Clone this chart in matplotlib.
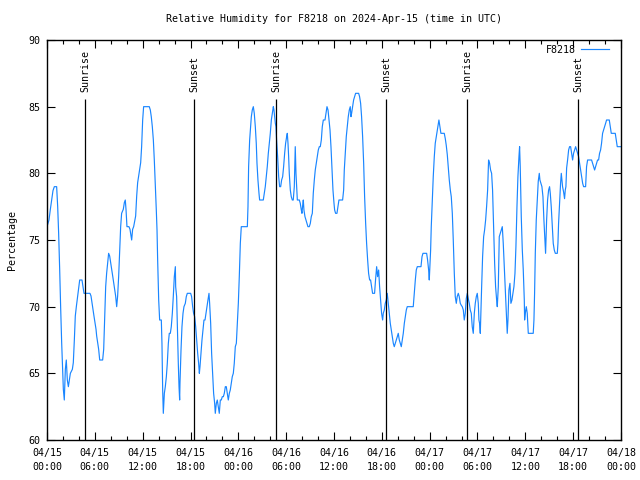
import matplotlib
matplotlib.use('Agg')
import matplotlib.pyplot as plt
from matplotlib.ticker import MultipleLocator

plt.rcParams['font.family'] = ['DejaVu Sans Mono', 'DejaVu Sans']
FS = 7.2

title = "Relative Humidity for F8218 on 2024-Apr-15 (time in UTC)"
series_name = "F8218"
y_label = "Percentage"

# (hours since 04/15 00:00 UTC, relative humidity %)
day1 = [(0.00, 76), (0.25, 76.5), (0.42, 77.3), (0.59, 78), (0.75, 78.7), (0.92, 79), (1.21, 79),
        (1.34, 77.5), (1.46, 75.5), (1.59, 72.8), (1.71, 70), (1.84, 67.3), (1.96, 65.3), (2.05, 63.8),
        (2.17, 63), (2.30, 65.3), (2.42, 66), (2.55, 64.5), (2.68, 64), (2.80, 64.5), (2.93, 65),
        (3.18, 65.3), (3.30, 65.8), (3.43, 67.5), (3.55, 69.3), (3.68, 70), (3.85, 70.8), (4.01, 71.5),
        (4.10, 72), (4.39, 72), (4.52, 71.5), (4.64, 71), (5.39, 71), (5.52, 70.8), (5.64, 70.3),
        (5.77, 69.8), (5.89, 69.3), (6.02, 68.8), (6.15, 68.3), (6.23, 67.8), (6.35, 67.3), (6.48, 66.8),
        (6.61, 66), (6.98, 66), (7.11, 66.8), (7.23, 69), (7.36, 71.5), (7.48, 72.5), (7.61, 73.3),
        (7.73, 74), (7.86, 73.8), (7.99, 73.3), (8.11, 72.8), (8.24, 72.3), (8.36, 71.8), (8.49, 71.3),
        (8.61, 70.8), (8.74, 70), (8.86, 70.8), (8.99, 72.3), (9.11, 74), (9.24, 76), (9.36, 77),
        (9.57, 77.3), (9.70, 77.8), (9.82, 78), (9.91, 77.3), (10.03, 76), (10.28, 76), (10.41, 75.8),
        (10.54, 75.3), (10.62, 75), (10.74, 75.8), (10.87, 76), (11.12, 76.8), (11.25, 78.3), (11.37, 79.3),
        (11.50, 79.8), (11.62, 80.3), (11.75, 80.8), (11.87, 82), (12.00, 84), (12.12, 85),
        (12.83, 85), (12.96, 84.75), (13.08, 84.25), (13.21, 83.5), (13.34, 82.5), (13.46, 81), (13.59, 79.1),
        (13.71, 77.25), (13.80, 75.75), (13.88, 73.5), (14.01, 70.5), (14.13, 69), (14.34, 69), (14.42, 67.25),
        (14.51, 63.75), (14.59, 62), (14.72, 63.5), (14.84, 64), (14.97, 64.75), (15.09, 65.75), (15.22, 67.25),
        (15.34, 68), (15.47, 68), (15.59, 68.5), (15.72, 69.5), (15.84, 70.75), (15.97, 72.25), (16.10, 73),
        (16.14, 71.5), (16.26, 70.75), (16.35, 68.5), (16.47, 65.75), (16.56, 64), (16.64, 63), (16.68, 64.25),
        (16.81, 66.75), (16.93, 68.5), (17.06, 69.5), (17.18, 70), (17.35, 70.25), (17.47, 70.75), (17.60, 71),
        (18.02, 71), (18.14, 70.75), (18.27, 70), (18.39, 69.5), (18.52, 69.25), (18.65, 68.5), (18.77, 67.5),
        (18.90, 66.5), (19.02, 65.75), (19.11, 65), (19.19, 65.5), (19.31, 66.5), (19.44, 67.5), (19.57, 68.25),
        (19.69, 69), (19.82, 69), (19.94, 69.5), (20.07, 70), (20.19, 70.5), (20.32, 71), (20.40, 70.25),
        (20.53, 68.75), (20.65, 66.5), (20.78, 65), (20.90, 63.5), (21.03, 62.75), (21.11, 62), (21.24, 62.75),
        (21.36, 63), (21.49, 62.5), (21.61, 62), (21.74, 63), (21.86, 63), (21.99, 63.25), (22.12, 63.25),
        (22.24, 63.5), (22.37, 64), (22.49, 64), (22.62, 63.5), (22.74, 63), (22.87, 63.5), (22.99, 63.75),
        (23.12, 64.25), (23.24, 64.75), (23.37, 65), (23.49, 65.75), (23.62, 67), (23.75, 67.25), (23.87, 68.75),
        (24.00, 70.25)]

day2 = [(24.12, 72.25), (24.25, 74.75), (24.37, 76), (25.13, 76), (25.21, 77.5), (25.29, 80.5), (25.42, 82.5),
        (25.54, 83.5), (25.63, 84.25), (25.75, 84.75), (25.88, 85), (26.00, 84.5), (26.13, 83.5), (26.25, 82.25),
        (26.34, 80.75), (26.46, 79.5), (26.59, 78.5), (26.67, 78), (27.13, 78), (27.26, 78.5), (27.38, 79),
        (27.51, 79.75), (27.63, 80.5), (27.76, 81.5), (27.88, 82.25), (28.01, 83), (28.14, 84), (28.26, 84.5),
        (28.39, 85), (28.47, 84.75), (28.55, 84.25), (28.64, 83.75), (28.72, 83.5), (28.80, 82.5), (28.93, 81.25),
        (29.06, 79.75), (29.18, 79), (29.31, 79), (29.43, 79.5), (29.56, 79.75), (29.68, 80.5), (29.81, 81.5),
        (29.93, 82.25), (30.06, 82.75), (30.14, 83), (30.23, 82.25), (30.31, 81.25), (30.39, 80), (30.52, 78.75),
        (30.64, 78.25), (30.77, 78), (30.89, 78), (31.02, 79), (31.10, 81), (31.14, 82), (31.23, 80),
        (31.31, 79), (31.40, 78), (31.65, 78), (31.77, 77.75), (31.90, 77.25), (31.98, 77), (32.07, 77.6),
        (32.15, 78), (32.23, 77.25), (32.36, 76.75), (32.48, 76.5), (32.61, 76.25), (32.73, 76), (32.90, 76),
        (33.03, 76.25), (33.15, 76.75), (33.28, 77), (33.40, 78.5), (33.53, 79.5), (33.65, 80.25), (33.78, 80.75),
        (33.91, 81.25), (34.03, 81.75), (34.16, 82), (34.28, 82), (34.41, 82.5), (34.53, 83.5), (34.66, 84),
        (34.87, 84), (34.99, 84.5), (35.12, 85), (35.25, 84.75), (35.37, 84), (35.50, 83.25), (35.62, 82),
        (35.74, 80.5), (35.87, 78.75), (36.00, 77.75), (36.08, 77.25),
        (36.20, 77), (36.37, 77), (36.50, 77.5), (36.62, 78), (37.08, 78), (37.21, 78.75), (37.29, 80.25),
        (37.42, 81.5), (37.54, 82.75), (37.67, 83.5), (37.79, 84.25), (37.92, 84.75), (38.04, 85), (38.13, 84.25),
        (38.21, 84.5), (38.34, 85), (38.46, 85.5), (38.59, 85.75), (38.71, 86), (39.09, 86), (39.21, 85.75),
        (39.34, 85.25), (39.46, 84.25), (39.59, 82.75), (39.72, 80.75), (39.84, 78.25), (39.97, 76.25), (40.09, 74.75),
        (40.22, 73.5), (40.34, 72.5), (40.47, 72), (40.59, 72), (40.72, 71.5), (40.84, 71), (41.09, 71),
        (41.21, 72), (41.35, 73), (41.47, 72.25), (41.60, 72.75), (41.72, 71.5), (41.85, 70.5), (41.97, 69.5),
        (42.10, 69), (42.18, 69.5), (42.31, 69.75), (42.43, 70.25), (42.56, 70.5), (42.68, 71), (42.81, 70.25),
        (42.94, 69.5), (43.06, 68.75), (43.19, 68.25), (43.31, 67.75), (43.44, 67.25), (43.56, 67), (43.69, 67.25),
        (43.81, 67.5), (43.94, 67.75), (44.06, 68), (44.19, 67.5), (44.31, 67.25), (44.44, 67), (44.57, 67.5),
        (44.69, 68), (44.82, 68.75), (44.94, 69.25), (45.07, 69.75), (45.19, 70), (45.94, 70), (46.07, 71),
        (46.20, 72), (46.32, 72.75), (46.45, 73), (46.91, 73), (47.04, 73.75), (47.16, 74), (47.62, 74),
        (47.74, 73.5), (47.87, 72.75), (47.95, 72)]

day3 = [(48.03, 73), (48.12, 74.25), (48.20, 76), (48.33, 78), (48.45, 79.75), (48.58, 81.25), (48.70, 82.25),
        (48.83, 82.75), (48.95, 83.25), (49.08, 83.75), (49.16, 84), (49.29, 83.5), (49.41, 83), (49.83, 83),
        (49.96, 82.6), (50.08, 82.1), (50.21, 81.4), (50.33, 80.5), (50.46, 79.5), (50.59, 78.75), (50.71, 78.25),
        (50.84, 77), (50.96, 75), (51.09, 72.5), (51.21, 70.75), (51.34, 70.25), (51.45, 70.75), (51.59, 71),
        (51.71, 70.75), (51.84, 70.25), (51.97, 70.1), (52.09, 70), (52.22, 69.75), (52.34, 69), (52.47, 69.5),
        (52.59, 70.6), (52.72, 71), (52.84, 70.6), (52.97, 70.25), (53.09, 69.75), (53.22, 69.5), (53.34, 68.5),
        (53.47, 68), (53.60, 69.5), (53.72, 70.25), (53.85, 70.75), (53.97, 71), (54.10, 70.25), (54.18, 69),
        (54.26, 68.75), (54.35, 68), (54.43, 69.75), (54.52, 71.5), (54.64, 73.75), (54.77, 75.25), (54.89, 75.75),
        (55.02, 76.5), (55.14, 77.5), (55.27, 78.75), (55.39, 81), (55.52, 80.75), (55.64, 80.25), (55.77, 80),
        (55.89, 78.75), (56.02, 76), (56.15, 73.25), (56.27, 71.5), (56.40, 70.5), (56.48, 70), (56.61, 71.5),
        (56.73, 75.25), (56.86, 75.5), (56.98, 75.75), (57.11, 76), (57.23, 74.75), (57.36, 73), (57.48, 71.5),
        (57.61, 69.5), (57.73, 68), (57.82, 69), (57.94, 71.25), (58.07, 71.75), (58.19, 70.25), (58.32, 70.5),
        (58.44, 71), (58.57, 71.5), (58.70, 72.5), (58.82, 74.5), (58.95, 77.5), (59.07, 79.75), (59.20, 81.25),
        (59.28, 82), (59.36, 80.5), (59.49, 76.75), (59.62, 74.25), (59.74, 72.75), (59.87, 70.5), (59.91, 69),
        (59.99, 69.5), (60.12, 70), (60.24, 69.5), (60.37, 68), (60.99, 68), (61.08, 69), (61.16, 71),
        (61.25, 74), (61.37, 76.5), (61.50, 78), (61.62, 79.4), (61.75, 80), (61.83, 79.5), (61.96, 79.25),
        (62.08, 79), (62.21, 78.25), (62.33, 76.5), (62.46, 75), (62.54, 74), (62.67, 76.5), (62.79, 78),
        (62.92, 78.75), (63.04, 79), (63.13, 78.5), (63.25, 77.5), (63.38, 76), (63.50, 74.75), (63.63, 74.25),
        (63.76, 74), (64.01, 74), (64.09, 74.75), (64.17, 76.25), (64.30, 77.75), (64.42, 79.25), (64.51, 80),
        (64.59, 79.5), (64.67, 79), (64.80, 78.6), (64.92, 78.1), (65.01, 78.75), (65.09, 79), (65.18, 80.4),
        (65.30, 81), (65.43, 81.75), (65.55, 82), (65.68, 82), (65.80, 81.5), (65.93, 81), (66.05, 81.5),
        (66.18, 81.75), (66.31, 82), (66.43, 81.75), (66.56, 81.5), (66.68, 81.25), (66.81, 80.75), (66.93, 80.25),
        (67.06, 79.75), (67.19, 79.25), (67.31, 79), (67.56, 79), (67.68, 80.5), (67.81, 81), (68.31, 81),
        (68.44, 80.75), (68.56, 80.5), (68.69, 80.25), (68.81, 80.5), (68.94, 80.75), (69.06, 81), (69.19, 81),
        (69.31, 81.5), (69.44, 81.75), (69.56, 82.25), (69.69, 83), (69.82, 83.25), (69.94, 83.5), (70.07, 83.75),
        (70.19, 84), (70.32, 84), (70.53, 84), (70.65, 83.5), (70.78, 83), (71.28, 83), (71.40, 82.5),
        (71.53, 82), (72.00, 82)]

sun_hours = [4.81, 18.48, 28.77, 42.53, 52.73, 66.65]
sun_labels = ["Sunrise", "Sunset", "Sunrise", "Sunset", "Sunrise", "Sunset"]

tick_hours = [0, 6, 12, 18, 24, 30, 36, 42, 48, 54, 60, 66, 72]
tick_labels = ["04/15\n00:00", "04/15\n06:00", "04/15\n12:00", "04/15\n18:00",
               "04/16\n00:00", "04/16\n06:00", "04/16\n12:00", "04/16\n18:00",
               "04/17\n00:00", "04/17\n06:00", "04/17\n12:00", "04/17\n18:00",
               "04/18\n00:00"]
y_ticks = [60, 65, 70, 75, 80, 85, 90]

pts = day1 + day2 + day3
hours = [p[0] for p in pts]
rh = [p[1] for p in pts]

fig = plt.figure(figsize=(6.4, 4.8), dpi=100)
ax = fig.add_axes([47/640, 40/480, 574/640, 400/480])
ax.plot(hours, rh, color='#1a86ff', lw=0.85, label=series_name)
ax.set_xlim(0, 72)
ax.set_ylim(60, 90)
ax.set_xticks(tick_hours)
ax.set_xticklabels(tick_labels, fontsize=FS, linespacing=1.55)
ax.xaxis.set_minor_locator(MultipleLocator(2))
ax.set_yticks(y_ticks)
ax.set_yticklabels([str(v) for v in y_ticks], fontsize=FS)
ax.tick_params(which='both', direction='in', top=True, right=True, width=0.8, color='black')
ax.tick_params(which='major', length=6)
ax.tick_params(which='minor', length=3)
ax.tick_params(axis='x', pad=5.5)
ax.tick_params(axis='y', pad=5)
for s in ax.spines.values():
    s.set_linewidth(1.0)

ax.vlines(sun_hours, 60, 85.6, color='black', lw=0.9)
for h, lab in zip(sun_hours, sun_labels):
    ax.text(h, 86.1, lab, rotation=90, ha='center', va='bottom', fontsize=FS)

ax.legend(loc='upper right', bbox_to_anchor=(1 - 7/574, 1), frameon=False, markerfirst=False,
          fontsize=FS, handlelength=2.8, handletextpad=0.5, borderaxespad=0.3, borderpad=0.2)

fig.text(334/640, 1 - 19/480, title, ha='center', va='center', fontsize=FS)
fig.text(12/640, 1 - 240/480, y_label, rotation=90, ha='center', va='center', fontsize=FS)

fig.savefig('out.png', dpi=100)
